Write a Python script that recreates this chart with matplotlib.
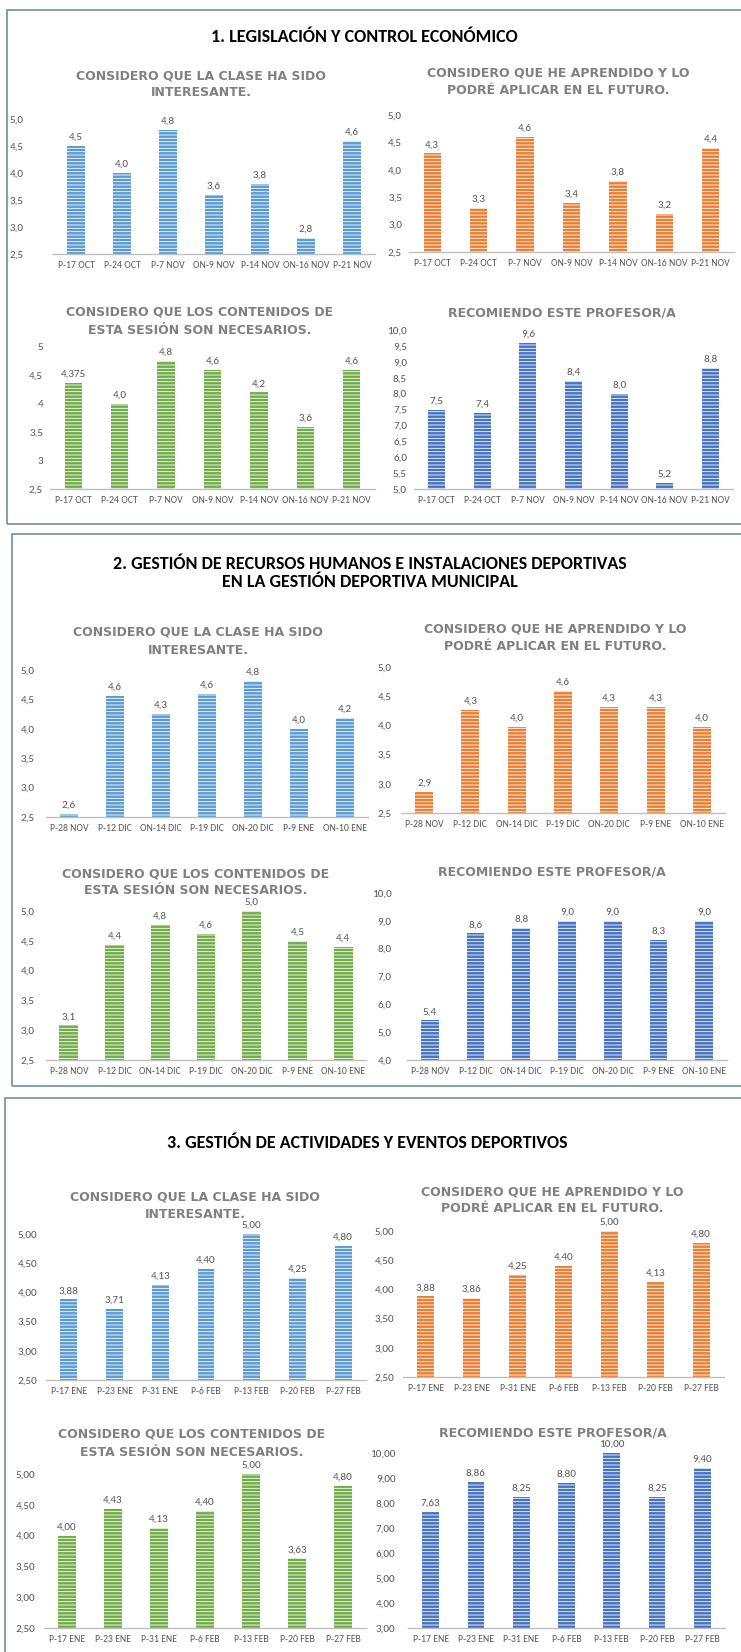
import matplotlib
matplotlib.use("Agg")
import matplotlib.pyplot as plt
from matplotlib.patches import Rectangle
from decimal import Decimal, ROUND_HALF_UP

W, H = 741, 1652

# --- data ---
dates_1 = ["P-17 OCT", "P-24 OCT", "P-7 NOV", "ON-9 NOV", "P-14 NOV", "ON-16 NOV", "P-21 NOV"]
interesante_1 = [4.5, 4.0, 4.8, 3.6, 3.8, 2.8, 4.6]
aprendido_1 = [4.3, 3.3, 4.6, 3.4, 3.8, 3.2, 4.4]
necesarios_1 = [4.375, 4.0, 4.75, 4.6, 4.2, 3.6, 4.6]
necesarios_1_labels = ["4,375", "4,0", "4,8", "4,6", "4,2", "3,6", "4,6"]
recomiendo_1 = [7.5, 7.4, 9.6, 8.4, 8.0, 5.2, 8.8]

dates_2 = ["P-28 NOV", "P-12 DIC", "ON-14 DIC", "P-19 DIC", "ON-20 DIC", "P-9 ENE", "ON-10 ENE"]
interesante_2 = [2.55, 4.56, 4.25, 4.59, 4.82, 4.0, 4.18]
aprendido_2 = [2.86, 4.27, 3.98, 4.59, 4.31, 4.31, 3.98]
necesarios_2 = [3.08, 4.43, 4.76, 4.61, 5.0, 4.5, 4.4]
recomiendo_2 = [5.42, 8.55, 8.75, 9.0, 9.0, 8.32, 9.0]

dates_3 = ["P-17 ENE", "P-23 ENE", "P-31 ENE", "P-6 FEB", "P-13 FEB", "P-20 FEB", "P-27 FEB"]
interesante_3 = [3.88, 3.71, 4.13, 4.40, 5.00, 4.25, 4.80]
aprendido_3 = [3.88, 3.86, 4.25, 4.40, 5.00, 4.13, 4.80]
necesarios_3 = [4.00, 4.43, 4.13, 4.40, 5.00, 3.63, 4.80]
recomiendo_3 = [7.63, 8.86, 8.25, 8.80, 10.00, 8.25, 9.40]

section_titles = ["1. LEGISLACIÓN Y CONTROL ECONÓMICO",
                  "2. GESTIÓN DE RECURSOS HUMANOS E INSTALACIONES DEPORTIVAS\nEN LA GESTIÓN DEPORTIVA MUNICIPAL",
                  "3. GESTIÓN DE ACTIVIDADES Y EVENTOS DEPORTIVOS"]
t_interesante = ["CONSIDERO QUE LA CLASE HA SIDO", "INTERESANTE."]
t_aprendido = ["CONSIDERO QUE HE APRENDIDO Y LO", "PODRÉ APLICAR EN EL FUTURO."]
t_necesarios = ["CONSIDERO QUE LOS CONTENIDOS DE", "ESTA SESIÓN SON NECESARIOS."]
t_recomiendo = ["RECOMIENDO ESTE PROFESOR/A"]

BLUE = "#5b9bd5"
ORANGE = "#ed7d31"
GREEN = "#70ad47"
DBLUE = "#4472c4"
GREY = "#595959"

plt.rcParams["font.family"] = ["Carlito", "DejaVu Sans"]
plt.rcParams["hatch.linewidth"] = 0.6

fig = plt.figure(figsize=(W / 100, H / 100), dpi=100)
fig.patch.set_facecolor("white")


def fx(x):
    return x / W


def fy(y):
    return 1 - y / H


def num(v, nd):
    if nd is None:
        return ("%g" % v).replace(".", ",")
    q = Decimal(str(v)).quantize(Decimal(1).scaleb(-nd), rounding=ROUND_HALF_UP)
    return str(q).replace(".", ",")


def bar_chart(box, cats, vals, color, ylo, yhi, ystep, nd, tick_nd, ypad,
              width=0.37, labels=None):
    l, r, t, b = box
    ax = fig.add_axes([fx(l), fy(b), (r - l) / W, (b - t) / H])
    x = list(range(len(cats)))
    ax.bar(x, vals, width=width, color=color, edgecolor="white",
           linewidth=0, hatch="-----")
    ax.set_xlim(-0.5, len(cats) - 0.5)
    ax.set_ylim(ylo, yhi)
    ticks = []
    v = ylo
    while v <= yhi + 1e-9:
        ticks.append(round(v, 3))
        v += ystep
    ax.set_yticks(ticks)
    ax.set_yticklabels([num(tk, tick_nd) for tk in ticks], fontsize=8, color=GREY)
    ax.set_xticks(x)
    ax.set_xticklabels(cats, fontsize=7, color=GREY)
    ax.tick_params(axis="x", length=0, pad=5)
    ax.tick_params(axis="y", length=0, pad=ypad)
    for s in ["top", "right", "left"]:
        ax.spines[s].set_visible(False)
    ax.spines["bottom"].set_color("#bfbfbf")
    ax.spines["bottom"].set_linewidth(1.0)
    ax.patch.set_alpha(0)
    if labels is None:
        labels = [num(val, nd) for val in vals]
    for i, val in enumerate(vals):
        ax.annotate(labels[i], (i, val), xytext=(0, 3), textcoords="offset points",
                    ha="center", va="bottom", fontsize=8, color=GREY,
                    annotation_clip=False)
    return ax


def sub_title(lines, xc, ys):
    for line, y in zip(lines, ys):
        fig.text(fx(xc), fy(y), line, ha="center", va="center", fontsize=9,
                 fontweight="bold", color="#808080", family="DejaVu Sans")


# panel borders
border = "#6e8ca6"
fig.add_artist(Rectangle((fx(7), fy(524)), 2, (524 - 10) / H, transform=fig.transFigure,
                         fill=False, ec=border, lw=1.2))
fig.add_artist(Rectangle((fx(12), fy(1086)), 2, (1086 - 534) / H, transform=fig.transFigure,
                         fill=False, ec=border, lw=1.2))
fig.add_artist(Rectangle((fx(5), -0.1), 2, 0.1 + fy(1098), transform=fig.transFigure,
                         fill=False, ec=border, lw=1.2))

# section titles
fig.text(fx(364), fy(37), section_titles[0], ha="center", va="center",
         fontsize=13, fontweight="bold", color="black")
fig.text(fx(370), fy(573), section_titles[1], ha="center", va="center",
         fontsize=13, fontweight="bold", color="black", linespacing=1.2)
fig.text(fx(367), fy(1143), section_titles[2], ha="center", va="center",
         fontsize=13, fontweight="bold", color="black")

# --- section 1 ---
sub_title(t_interesante, 201, [76, 93])
bar_chart([53, 375, 119, 254], dates_1, interesante_1, BLUE, 2.5, 5.0, 0.5, 1, 1, 21)
sub_title(t_aprendido, 558, [73, 90])
bar_chart([409, 734, 115, 252], dates_1, aprendido_1, ORANGE, 2.5, 5.0, 0.5, 1, 1, 5)
sub_title(t_necesarios, 200, [312, 330])
bar_chart([50, 375, 347, 489], dates_1, necesarios_1, GREEN, 2.5, 5.0, 0.5, 1, None, 5,
          labels=necesarios_1_labels)
sub_title(t_recomiendo, 562, [313])
bar_chart([414, 733, 330, 489], dates_1, recomiendo_1, DBLUE, 5.0, 10.0, 0.5, 1, 1, 5)

# --- section 2 ---
sub_title(t_interesante, 198, [632, 650])
bar_chart([46, 368, 670, 817], dates_2, interesante_2, BLUE, 2.5, 5.0, 0.5, 1, 1, 8, width=0.41)
sub_title(t_aprendido, 555, [629, 646])
bar_chart([401, 725, 667, 813], dates_2, aprendido_2, ORANGE, 2.5, 5.0, 0.5, 1, 1, 6.5, width=0.39)
sub_title(t_necesarios, 196, [874, 891])
bar_chart([46, 366, 911, 1060], dates_2, necesarios_2, GREEN, 2.5, 5.0, 0.5, 1, 1, 8, width=0.41)
sub_title(t_recomiendo, 552, [872])
bar_chart([407, 727, 893, 1060], dates_2, recomiendo_2, DBLUE, 4.0, 10.0, 1.0, 1, 1, 11, width=0.39)

# --- section 3 ---
sub_title(t_interesante, 195, [1197, 1215])
bar_chart([46, 366, 1234, 1380], dates_3, interesante_3, BLUE, 2.5, 5.0, 0.5, 2, 2, 6.5)
sub_title(t_aprendido, 552, [1192, 1209])
bar_chart([403, 724, 1231, 1377], dates_3, aprendido_3, ORANGE, 2.5, 5.0, 0.5, 2, 2, 6)
sub_title(t_necesarios, 192, [1434, 1453])
bar_chart([44, 366, 1474, 1628], dates_3, necesarios_3, GREEN, 2.5, 5.0, 0.5, 2, 2, 6)
sub_title(t_recomiendo, 553, [1433])
bar_chart([408, 725, 1453, 1628], dates_3, recomiendo_3, DBLUE, 3.0, 10.0, 1.0, 2, 2, 9)

fig.savefig("out.png", dpi=100, facecolor="white")
